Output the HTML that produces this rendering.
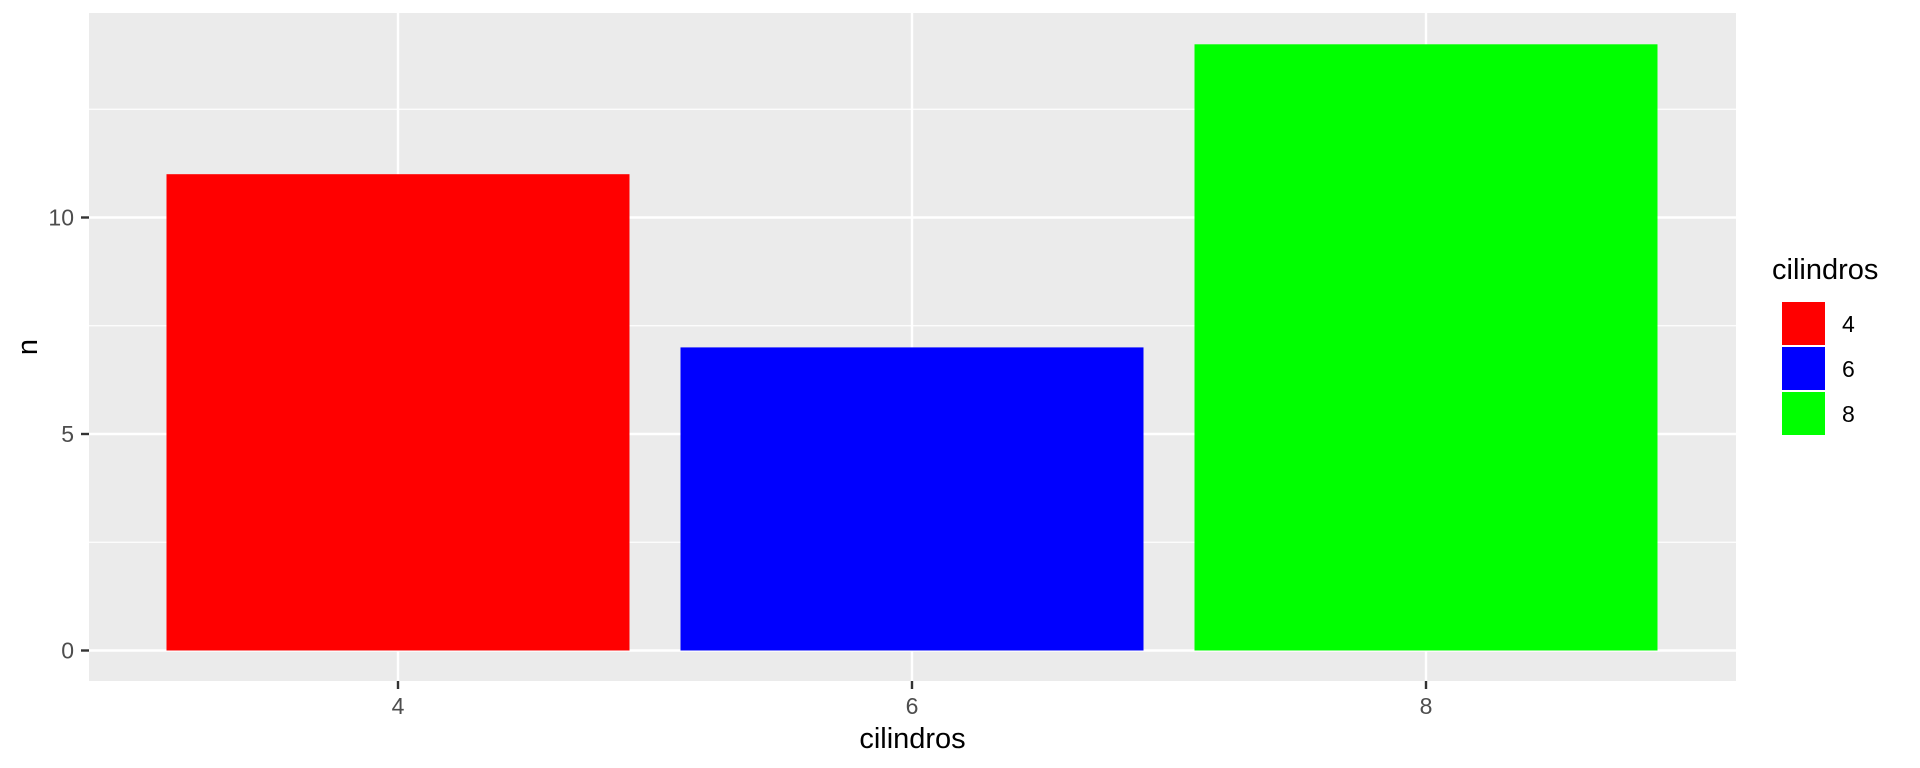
<!DOCTYPE html>
<html><head><meta charset="utf-8"><style>body{margin:0;background:#fff}svg{display:block;font-family:"Liberation Sans",sans-serif}</style></head>
<body>
<svg id="c" width="1920" height="768"></svg>
<script>
const categories=["4","6","8"];
const counts=[11,7,14];
const colors=["#ff0000","#0000ff","#00ff00"];
const yTicks=[0,5,10];
const yMinor=[2.5,7.5,12.5];
const svg=document.getElementById('c');
const NS="http://www.w3.org/2000/svg";
function mk(t,a,txt){const e=document.createElementNS(NS,t);for(const k in a)e.setAttribute(k,a[k]);if(txt!=null)e.textContent=txt;svg.appendChild(e);return e;}
const L=89,R=1736,T=13,B=681;
const y0=650.5,yPer=43.3;
function y(v){return y0-v*yPer;}
const step=514,x0=398;
function x(i){return x0+i*step;}
const bw=463;
let e=mk('rect',{x:L,y:T,width:R-L,height:B-T,fill:'#ebebeb'});

yMinor.forEach(v=>{const g=mk('line',{x1:L,x2:R,y1:y(v),y2:y(v),stroke:'#fff','stroke-width':1.2});});
yTicks.forEach(v=>{const g=mk('line',{x1:L,x2:R,y1:y(v),y2:y(v),stroke:'#fff','stroke-width':2.4});
const tk=mk('line',{x1:L-8,x2:L,y1:y(v),y2:y(v),stroke:'#333','stroke-width':2.4});
const t=mk('text',{x:L-15,y:y(v)+8,'text-anchor':'end','font-size':23,fill:'#4d4d4d'},v);});
categories.forEach((c,i)=>{const g=mk('line',{x1:x(i),x2:x(i),y1:T,y2:B,stroke:'#fff','stroke-width':2.4});});
categories.forEach((c,i)=>{const b=mk('rect',{x:x(i)-bw/2,y:y(counts[i]),width:bw,height:y(0)-y(counts[i]),fill:colors[i]});
const tk=mk('line',{x1:x(i),x2:x(i),y1:B,y2:B+8,stroke:'#333','stroke-width':2.4});
const t=mk('text',{x:x(i),y:714,'text-anchor':'middle','font-size':23,fill:'#4d4d4d'},c);
const k=mk('rect',{x:1782,y:302+i*45,width:43,height:43,fill:colors[i]});
const lt=mk('text',{x:1842,y:332+i*45,'font-size':23,fill:'#000'},c);});
e=mk('text',{x:(L+R)/2,y:748,'text-anchor':'middle','font-size':29,fill:'#000'},'cilindros');
e=mk('text',{x:37,y:347,'text-anchor':'middle','font-size':29,fill:'#000',transform:'rotate(-90 37 347)'},'n');
e=mk('text',{x:1772,y:279,'font-size':29,fill:'#000'},'cilindros');
</script>
</body></html>
